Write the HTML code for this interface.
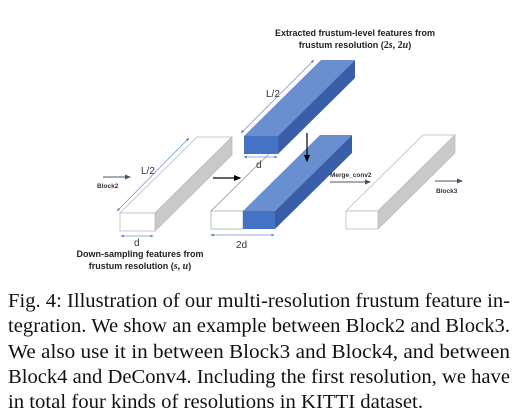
<!DOCTYPE html>
<html><head><meta charset="utf-8"><style>
html,body{margin:0;padding:0;background:#fff;width:530px;height:420px;overflow:hidden}
svg{display:block}
</style></head><body>
<svg width="530" height="420" viewBox="0 0 530 420" xmlns="http://www.w3.org/2000/svg">
<defs>
<marker id="a" markerWidth="6" markerHeight="6" refX="5" refY="3" orient="auto"><path d="M0,0.5 L6,3 L0,5.5z" fill="#44546a"/></marker>
<marker id="k" markerWidth="6" markerHeight="6" refX="5" refY="3" orient="auto"><path d="M0,0.5 L6,3 L0,5.5z" fill="#000"/></marker>
<marker id="b" markerWidth="5" markerHeight="5" refX="2.5" refY="2.5" orient="auto"><path d="M0,0.5 L5,2.5 L0,4.5z" fill="#5b7db5"/></marker>
<marker id="bs" markerWidth="5" markerHeight="5" refX="2.5" refY="2.5" orient="auto-start-reverse"><path d="M0,0.5 L5,2.5 L0,4.5z" fill="#5b7db5"/></marker>
</defs>
<g font-family="Liberation Sans, sans-serif">
<text x="355" y="36" font-size="9" font-weight="bold" text-anchor="middle" fill="#222">Extracted frustum-level features from</text>
<text x="355" y="48" font-size="9" font-weight="bold" text-anchor="middle" fill="#222">frustum resolution (<tspan font-family="Liberation Serif" font-size="10">2<tspan font-style="italic">s</tspan>, 2<tspan font-style="italic">u</tspan></tspan>)</text>

<polygon points="120,213 197,137 232,137 155,213" fill="#fff" stroke="#bbb" stroke-width="0.8"/>
<polygon points="155,213 232,137 232,155 155,231" fill="#c9c9c9" stroke="#bbb" stroke-width="0.8"/>
<rect x="120" y="213" width="35" height="18" fill="#fff" stroke="#bbb" stroke-width="0.8"/>

<line x1="211" y1="211" x2="288" y2="135" stroke="#888" stroke-width="0.7"/>
<polygon points="243,211 320,135 352,135 275,211" fill="#6a8fd0"/>
<polygon points="275,211 352,135 352,153 275,229" fill="#3a5ea8"/>
<rect x="211" y="211" width="32" height="18" fill="#fff" stroke="#aaa" stroke-width="0.8"/>
<rect x="243" y="211" width="32" height="18" fill="#4472c4"/>

<polygon points="244,136 321,60 355,60 278,136" fill="#6a8fd0"/>
<polygon points="278,136 355,60 355,78 278,154" fill="#3a5ea8"/>
<rect x="244" y="136" width="34" height="18" fill="#4472c4"/>

<polygon points="346,211 423,135 455,135 378,211" fill="#fff" stroke="#bbb" stroke-width="0.8"/>
<polygon points="378,211 455,135 455,153 378,229" fill="#c9c9c9" stroke="#bbb" stroke-width="0.8"/>
<rect x="346" y="211" width="32" height="18" fill="#fff" stroke="#bbb" stroke-width="0.8"/>

<line x1="118" y1="210" x2="188" y2="139" stroke="#6a8fd0" stroke-width="0.7" marker-start="url(#bs)" marker-end="url(#b)"/>
<text x="141" y="174" font-size="10" fill="#333">L/2</text>
<line x1="242" y1="132" x2="313" y2="61" stroke="#6a8fd0" stroke-width="0.7" marker-start="url(#bs)" marker-end="url(#b)"/>
<text x="266" y="97" font-size="10" fill="#333">L/2</text>
<line x1="122" y1="236" x2="152" y2="236" stroke="#6a8fd0" stroke-width="0.7" marker-start="url(#bs)" marker-end="url(#b)"/>
<text x="134" y="246" font-size="10" fill="#333">d</text>
<line x1="245" y1="157" x2="276" y2="157" stroke="#6a8fd0" stroke-width="0.7" marker-start="url(#bs)" marker-end="url(#b)"/>
<text x="256" y="168" font-size="10" fill="#333">d</text>
<line x1="212" y1="235" x2="273" y2="235" stroke="#6a8fd0" stroke-width="0.7" marker-start="url(#bs)" marker-end="url(#b)"/>
<text x="236" y="248" font-size="10" fill="#333">2d</text>

<line x1="103" y1="177" x2="130" y2="177" stroke="#44546a" stroke-width="1" marker-end="url(#a)"/>
<text x="97" y="188" font-size="6.5" font-weight="bold" fill="#333">Block2</text>
<line x1="213" y1="178" x2="240" y2="178" stroke="#000" stroke-width="1.2" marker-end="url(#k)"/>
<line x1="307" y1="133" x2="307" y2="161" stroke="#000" stroke-width="1.2" marker-end="url(#k)"/>
<line x1="330" y1="182" x2="370" y2="182" stroke="#44546a" stroke-width="1" marker-end="url(#a)"/>
<text x="330" y="177" font-size="6.5" font-weight="bold" fill="#333">Merge_conv2</text>
<line x1="435" y1="181" x2="462" y2="181" stroke="#44546a" stroke-width="1" marker-end="url(#a)"/>
<text x="436" y="193" font-size="6.5" font-weight="bold" fill="#333">Block3</text>

<text x="140" y="257" font-size="9" font-weight="bold" text-anchor="middle" fill="#222">Down-sampling features from</text>
<text x="140" y="269" font-size="9" font-weight="bold" text-anchor="middle" fill="#222">frustum resolution (<tspan font-family="Liberation Serif" font-size="10" font-style="italic">s</tspan><tspan font-family="Liberation Serif" font-size="10">, </tspan><tspan font-family="Liberation Serif" font-size="10" font-style="italic">u</tspan>)</text>
</g>

<g font-family="Liberation Serif, serif" font-size="20" fill="#111">
<text x="8" y="307" textLength="502" lengthAdjust="spacingAndGlyphs">Fig. 4: Illustration of our multi-resolution frustum feature in-</text>
<text x="8" y="332" textLength="502" lengthAdjust="spacingAndGlyphs">tegration. We show an example between Block2 and Block3.</text>
<text x="8" y="358" textLength="502" lengthAdjust="spacingAndGlyphs">We also use it in between Block3 and Block4, and between</text>
<text x="8" y="383" textLength="502" lengthAdjust="spacingAndGlyphs">Block4 and DeConv4. Including the first resolution, we have</text>
<text x="8" y="408" textLength="415" lengthAdjust="spacingAndGlyphs">in total four kinds of resolutions in KITTI dataset.</text>
</g>
</svg>
</body></html>
